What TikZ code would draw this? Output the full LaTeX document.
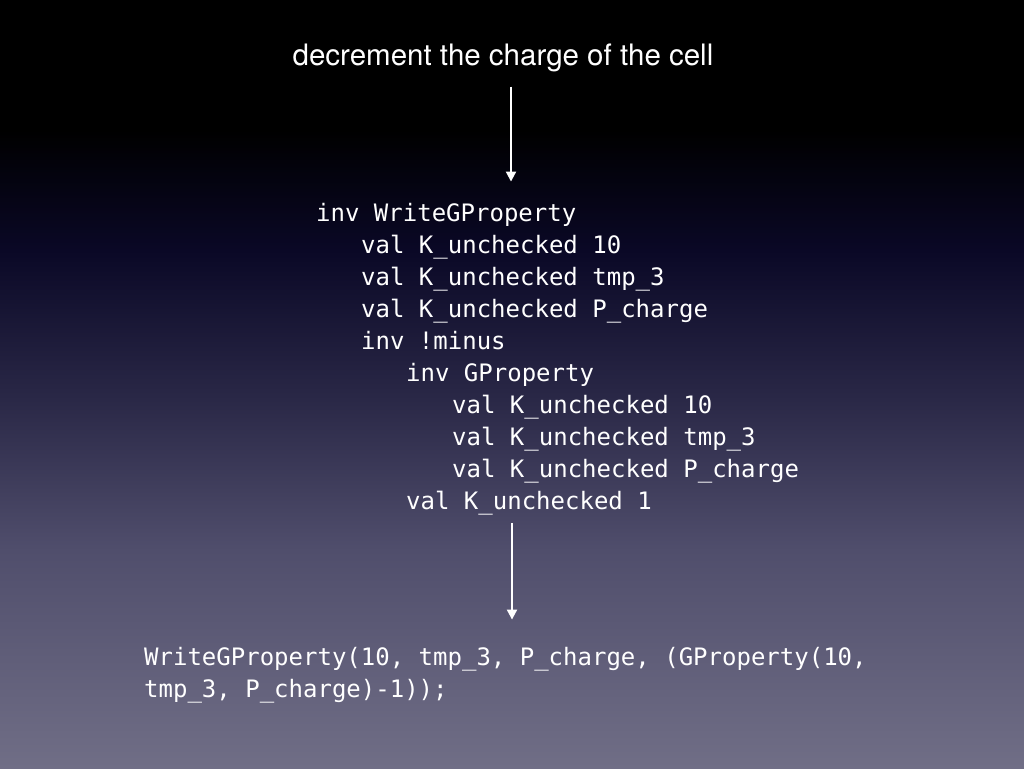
\documentclass[tikz,border=0pt]{standalone}
\usepackage{fontspec}
\usepackage{tikz}
\usetikzlibrary{arrows.meta}
\newfontfamily\titlefont{TeX Gyre Heros}
\newfontfamily\codefont{DejaVu Sans Mono}
\definecolor{bgnavy}{RGB}{10,8,38}
\definecolor{bgmiddle}{RGB}{42,40,71}
\definecolor{bglow}{RGB}{80,78,108}
\definecolor{bgbottom}{RGB}{112,110,134}
\pgfdeclareverticalshading{slidebg}{100bp}{color(0bp)=(bgbottom); color(25bp)=(bgbottom); color(39.19bp)=(bglow); color(48.96bp)=(bgmiddle); color(58.72bp)=(bgnavy); color(66.54bp)=(black); color(100bp)=(black)}
\tikzstyle{caption}=[text=white,inner sep=0pt,font=\titlefont\fontsize{29.5}{35}\selectfont]
\tikzstyle{codeline}=[anchor=base west,text=white,inner sep=0pt,font=\codefont\fontsize{24}{32}\selectfont]
\tikzstyle{edge} = [draw,white,line width=2pt,-{Triangle[length=10pt,width=10pt]}]

\begin{document}
\begin{tikzpicture}[x=1pt,y=-1pt]
        \shade[shading=slidebg] (0,0) rectangle (1024,768);
        \node[caption,anchor=base] (title) at (503,65) {decrement the charge of the cell};
        \node[codeline] (l1) at (316,221) {inv WriteGProperty};
        \node[codeline] (l2) at (361,253) {val K\_unchecked 10};
        \node[codeline] (l3) at (361,285) {val K\_unchecked tmp\_3};
        \node[codeline] (l4) at (361,317) {val K\_unchecked P\_charge};
        \node[codeline] (l5) at (361,349) {inv !minus};
        \node[codeline] (l6) at (406,381) {inv GProperty};
        \node[codeline] (l7) at (452,413) {val K\_unchecked 10};
        \node[codeline] (l8) at (452,445) {val K\_unchecked tmp\_3};
        \node[codeline] (l9) at (452,477) {val K\_unchecked P\_charge};
        \node[codeline] (l10) at (406,509) {val K\_unchecked 1};
        \node[codeline] (r1) at (144,665) {WriteGProperty(10, tmp\_3, P\_charge, (GProperty(10,};
        \node[codeline] (r2) at (144,697) {tmp\_3, P\_charge)-1));};
        \draw[edge,shorten <=15pt,shorten >=21pt] (title.south -| 511,0) -- (l1.north -| 511,0);
        \draw[edge,shorten <=8pt,shorten >=27pt] (l10.south -| 512,0) -- (r1.north -| 512,0);
\end{tikzpicture}
\end{document}
